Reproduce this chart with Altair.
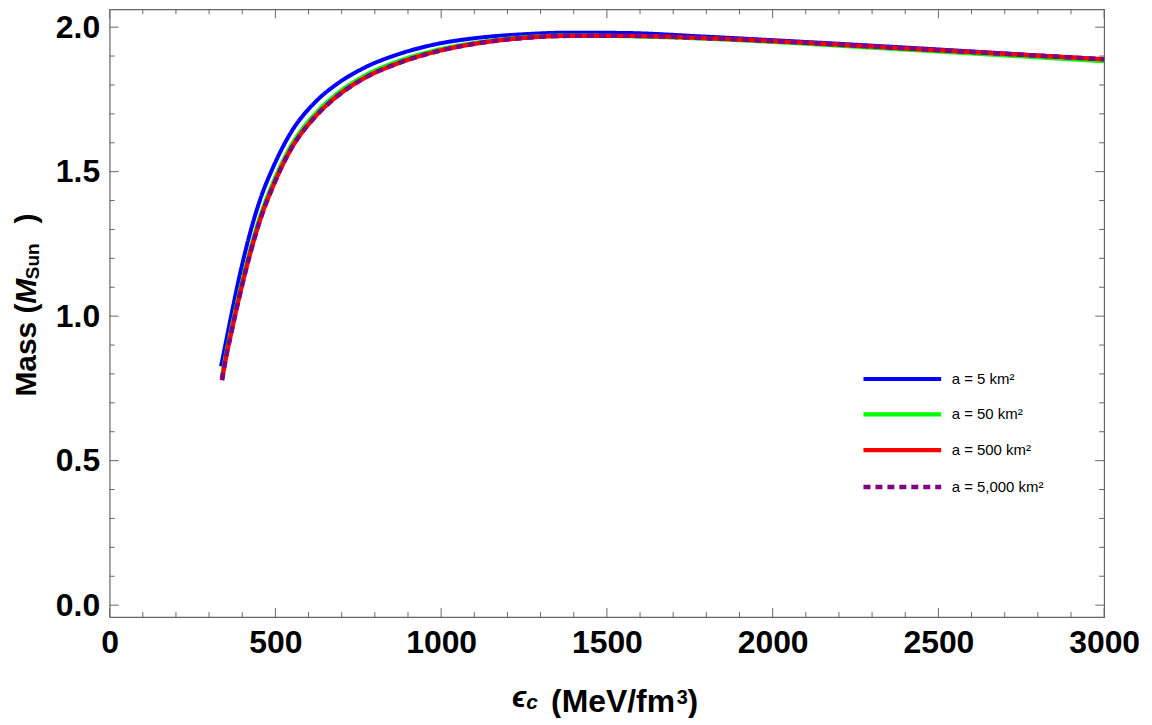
import altair as alt
import pandas as pd

# ---------------- data ----------------
series_labels = ["a = 5 km²", "a = 50 km²", "a = 500 km²", "a = 5,000 km²"]
series_colors = ["#0000ff", "#00ff00", "#ff0000", "#800080"]
series_dash = [[1, 0], [1, 0], [1, 0], [7, 5]]
series_width = [4, 4.5, 3.5, 2]

eps_a5 = [336, 350, 366, 398, 423, 453, 493, 544, 624, 684, 769, 870, 980, 1110,
          1241, 1390, 1550, 1800, 2000, 2300, 2600, 3000]
mass_a5 = [0.826, 0.906, 0.998, 1.170, 1.285, 1.400, 1.515, 1.630, 1.745, 1.802, 1.860,
           1.906, 1.940, 1.963, 1.975, 1.981, 1.980, 1.967, 1.955, 1.936, 1.916, 1.888]

eps_a50 = [338, 350, 366, 398, 423, 453, 493, 544, 624, 684, 769, 870, 980, 1110,
           1241, 1390, 1550, 1800, 2000, 2300, 2600, 3000]
mass_a50 = [0.787, 0.862, 0.950, 1.112, 1.225, 1.342, 1.462, 1.583, 1.705, 1.768, 1.832,
            1.882, 1.919, 1.947, 1.964, 1.971, 1.969, 1.960, 1.949, 1.929, 1.909, 1.882]

eps_a500 = [339, 350, 366, 398, 423, 453, 493, 544, 624, 684, 769, 870, 980, 1110,
            1241, 1390, 1550, 1800, 2000, 2300, 2600, 3000]
mass_a500 = [0.779, 0.851, 0.938, 1.100, 1.213, 1.330, 1.450, 1.572, 1.695, 1.759, 1.824,
             1.875, 1.914, 1.944, 1.962, 1.970, 1.970, 1.962, 1.952, 1.933, 1.914, 1.889]

eps_a5000 = [339, 350, 366, 398, 423, 453, 493, 544, 624, 684, 769, 870, 980, 1110,
             1241, 1390, 1550, 1800, 2000, 2300, 2600, 3000]
mass_a5000 = [0.779, 0.851, 0.938, 1.100, 1.213, 1.330, 1.450, 1.572, 1.695, 1.759, 1.824,
              1.875, 1.914, 1.944, 1.962, 1.970, 1.970, 1.962, 1.952, 1.933, 1.914, 1.889]

x_major = [0, 500, 1000, 1500, 2000, 2500, 3000]
x_minor = [v for v in range(100, 3000, 100) if v % 500 != 0]
y_major = [0.0, 0.5, 1.0, 1.5, 2.0]
y_minor = [0.1, 0.2, 0.3, 0.4, 0.6, 0.7, 0.8, 0.9, 1.1, 1.2, 1.3, 1.4, 1.6, 1.7, 1.8, 1.9]

# ---------------- build table ----------------
rows = []
for lab, es, ms in zip(series_labels,
                       [eps_a5, eps_a50, eps_a500, eps_a5000],
                       [mass_a5, mass_a50, mass_a500, mass_a5000]):
    for e, m in zip(es, ms):
        rows.append({"series": lab, "eps": e, "mass": m})
df = pd.DataFrame(rows)

W, H = 998, 610
FRAME = "#666666"
FONT = "Liberation Sans, Arial, DejaVu Sans"

xs = alt.Scale(domain=[0, 3000], nice=False, zero=False)
ys = alt.Scale(domain=[-0.0414, 2.062], nice=False, zero=False)

X_AXIS = alt.Axis(
    values=x_major, format="d", labelFont=FONT, labelFontSize=32,
    labelFontWeight="bold", labelColor="black", labelPadding=11,
    ticks=False, domain=False, grid=False, title=None,
    labelFlush=False, labelOverlap=False)
Y_AXIS = alt.Axis(
    values=y_major, format=".1f", labelFont=FONT, labelFontSize=32,
    labelFontWeight="bold", labelColor="black", labelPadding=10,
    ticks=False, domain=False, grid=False, title=None,
    labelFlush=False, labelOverlap=False)

legend = alt.Legend(
    orient="none", legendX=780, legendY=356, title=None,
    symbolType="M-3,0H3", symbolSize=676,
    labelFont=FONT, labelFontSize=15, labelColor="black",
    labelOffset=34, rowPadding=12, padding=0,
)

lines = alt.Chart(df).mark_line(strokeJoin="round", interpolate="monotone").encode(
    x=alt.X("eps:Q", scale=xs, axis=X_AXIS),
    y=alt.Y("mass:Q", scale=ys, axis=Y_AXIS),
    color=alt.Color("series:O", sort=series_labels,
                    scale=alt.Scale(domain=series_labels, range=series_colors),
                    legend=legend),
    strokeDash=alt.StrokeDash("series:O", sort=series_labels,
                              scale=alt.Scale(domain=series_labels, range=series_dash),
                              legend=legend),
    strokeWidth=alt.StrokeWidth("series:O", sort=series_labels,
                                scale=alt.Scale(domain=series_labels, range=series_width),
                                legend=legend),
)

xmaj = pd.DataFrame({"v": x_major})
xmin = pd.DataFrame({"v": x_minor})
ymaj = pd.DataFrame({"v": y_major})
ymin = pd.DataFrame({"v": y_minor})

def xticks(d, ln):
    base = alt.Chart(d).mark_rule(color=FRAME, strokeWidth=1)
    b = base.encode(x=alt.X("v:Q", scale=xs, axis=X_AXIS), y=alt.value(H), y2=alt.value(H - ln))
    t = base.encode(x=alt.X("v:Q", scale=xs, axis=X_AXIS), y=alt.value(0), y2=alt.value(ln))
    return [b, t]

def yticks(d, ln):
    base = alt.Chart(d).mark_rule(color=FRAME, strokeWidth=1)
    l = base.encode(y=alt.Y("v:Q", scale=ys, axis=Y_AXIS), x=alt.value(0), x2=alt.value(ln))
    r = base.encode(y=alt.Y("v:Q", scale=ys, axis=Y_AXIS), x=alt.value(W), x2=alt.value(W - ln))
    return [l, r]

one = pd.DataFrame({"k": [0]})

def txt(s, x, y, size, italic=False, angle=0, align="center"):
    kw = dict(text=s, font=FONT, fontSize=size, fontWeight="bold", color="black",
              align=align, baseline="alphabetic")
    if italic:
        kw["fontStyle"] = "italic"
    if angle:
        kw["angle"] = angle
    return alt.Chart(one).mark_text(**kw).encode(x=alt.value(x), y=alt.value(y))

titles = [
    # x title: eps_c (MeV/fm^3)
    txt("ϵ", 411, 700, 30, italic=True),
    txt("c", 424, 702, 21, italic=True),
    txt("(MeV/fm", 443, 705, 32, align="left"),
    txt("3", 569, 697, 20, align="left"),
    txt(")", 580, 705, 32, align="left"),
    # y title: Mass (M_Sun )
    txt("Mass (", -74, 342, 30, angle=270),
    txt("M", -74, 283, 30, italic=True, angle=270),
    txt("Sun", -71, 253, 19, angle=270),
    txt(")", -74, 210, 30, angle=270),
]

layers = [lines] + xticks(xmaj, 9) + xticks(xmin, 5) + yticks(ymaj, 9) + yticks(ymin, 5) + titles

chart = alt.layer(*layers).properties(
    width=W, height=H,
    padding={"left": 102, "top": 0, "right": 40, "bottom": 100},
    autosize=alt.AutoSizeParams(type="none"),
    background="white",
).configure_view(stroke=FRAME, strokeWidth=1.2)

chart.save("out.html", embed_options={"renderer": "svg", "actions": False})
